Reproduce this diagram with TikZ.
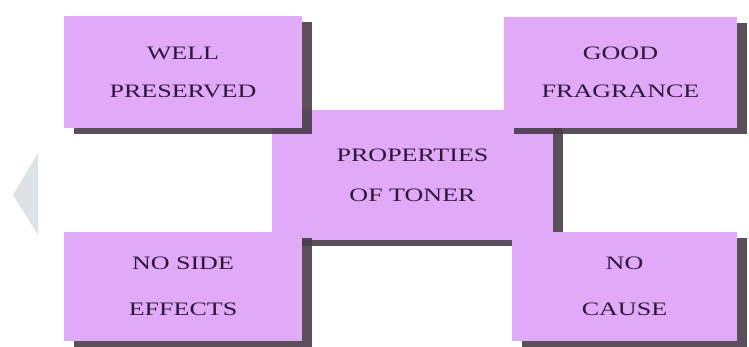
\documentclass[tikz,border=0pt]{standalone}
\usepackage{graphicx}
\usepackage{fontspec}
\setmainfont{Liberation Serif}
\usetikzlibrary{shadows}
\definecolor{boxfill}{RGB}{224,170,248}
\definecolor{txt}{RGB}{48,22,58}
\definecolor{shade}{RGB}{72,60,72}
\definecolor{chev}{RGB}{222,226,230}
\newcommand\widetxt[1]{\scalebox{1.37}[1]{#1}}
\begin{document}
\begin{tikzpicture}[x=1pt,y=-1pt,
  box/.style={rectangle, fill=boxfill, inner sep=0pt, align=center, text=txt,
    drop shadow={shadow xshift=10pt, shadow yshift=-6pt, fill=shade, opacity=0.9},
    font=\fontsize{19}{38}\selectfont}]
\useasboundingbox (0,0) rectangle (749,347);
\fill[chev] (38,153) -- (13,195) -- (38,235) -- cycle;
\node[box, minimum width=281pt, minimum height=130pt] (center) at (412.5,175) {\widetxt{PROPERTIES}\\[2pt]\widetxt{OF TONER}};
\node[box, minimum width=238pt, minimum height=112pt] (well) at (183,72) {\widetxt{WELL}\\\widetxt{PRESERVED}};
\node[box, minimum width=233pt, minimum height=111pt] (good) at (620.5,72.5) {\widetxt{GOOD}\\\widetxt{FRAGRANCE}};
\node[box, minimum width=238pt, minimum height=109pt] (noside) at (183,286.5) {\widetxt{NO SIDE}\\[8pt]\widetxt{EFFECTS}};
\node[box, minimum width=225pt, minimum height=109pt] (nocause) at (624.5,286.5) {\widetxt{NO}\\[8pt]\widetxt{CAUSE}};
\end{tikzpicture}
\end{document}
